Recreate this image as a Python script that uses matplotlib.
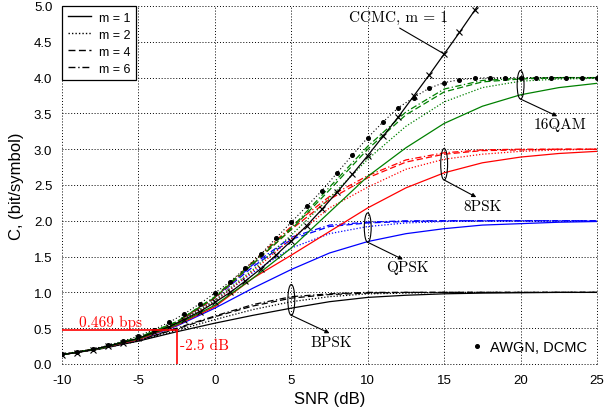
import numpy as np
import matplotlib.pyplot as plt
from matplotlib.patches import Ellipse
from matplotlib.lines import Line2D

plt.rcParams['font.family'] = ['Liberation Sans', 'DejaVu Sans']
plt.rcParams['axes.unicode_minus'] = False

# SNR grid (dB) used for the DCMC curves
snr = [-10, -7.5, -5, -2.5, 0, 2.5, 5, 7.5, 10, 12.5, 15, 17.5, 20, 22.5, 25]

# BPSK, m = 1, 2, 4, 6
bpsk_m1 = [0.13, 0.21, 0.32, 0.45, 0.57, 0.68, 0.78, 0.87, 0.93, 0.96, 0.98, 0.99, 0.995, 1.0, 1.0]
bpsk_m2 = [0.13, 0.21, 0.32, 0.47, 0.62, 0.76, 0.87, 0.94, 0.98, 0.99, 1.0, 1.0, 1.0, 1.0, 1.0]
bpsk_m4 = [0.13, 0.22, 0.33, 0.49, 0.66, 0.81, 0.92, 0.97, 0.99, 1.0, 1.0, 1.0, 1.0, 1.0, 1.0]
bpsk_m6 = [0.13, 0.22, 0.33, 0.50, 0.67, 0.83, 0.94, 0.98, 1.0, 1.0, 1.0, 1.0, 1.0, 1.0, 1.0]

# QPSK
qpsk_m1 = [0.13, 0.22, 0.34, 0.53, 0.78, 1.06, 1.32, 1.55, 1.71, 1.82, 1.89, 1.94, 1.96, 1.98, 1.99]
qpsk_m2 = [0.13, 0.22, 0.35, 0.56, 0.88, 1.28, 1.62, 1.82, 1.92, 1.97, 1.99, 2.0, 2.0, 2.0, 2.0]
qpsk_m4 = [0.13, 0.22, 0.36, 0.57, 0.92, 1.36, 1.74, 1.92, 1.97, 1.99, 2.0, 2.0, 2.0, 2.0, 2.0]
qpsk_m6 = [0.13, 0.22, 0.36, 0.58, 0.93, 1.39, 1.77, 1.94, 1.98, 2.0, 2.0, 2.0, 2.0, 2.0, 2.0]

# 8PSK
psk8_m1 = [0.13, 0.22, 0.34, 0.54, 0.80, 1.20, 1.52, 1.85, 2.18, 2.46, 2.67, 2.81, 2.89, 2.94, 2.97]
psk8_m2 = [0.13, 0.22, 0.35, 0.56, 0.87, 1.30, 1.75, 2.18, 2.47, 2.72, 2.86, 2.93, 2.97, 2.99, 3.0]
psk8_m4 = [0.13, 0.22, 0.36, 0.58, 0.92, 1.40, 1.88, 2.30, 2.60, 2.82, 2.93, 2.98, 2.99, 3.0, 3.0]
psk8_m6 = [0.13, 0.22, 0.36, 0.58, 0.93, 1.43, 1.92, 2.34, 2.63, 2.85, 2.95, 2.99, 3.0, 3.0, 3.0]

# 16QAM
qam16_m1 = [0.13, 0.22, 0.35, 0.55, 0.82, 1.20, 1.62, 2.12, 2.62, 3.02, 3.36, 3.60, 3.76, 3.86, 3.92]
qam16_m2 = [0.13, 0.22, 0.36, 0.57, 0.89, 1.32, 1.80, 2.32, 2.86, 3.32, 3.66, 3.86, 3.95, 3.98, 3.99]
qam16_m4 = [0.13, 0.22, 0.37, 0.59, 0.93, 1.40, 1.88, 2.43, 3.00, 3.48, 3.80, 3.94, 3.98, 4.0, 4.0]
qam16_m6 = [0.13, 0.22, 0.37, 0.59, 0.94, 1.42, 1.90, 2.47, 3.04, 3.52, 3.84, 3.96, 3.99, 4.0, 4.0]

# CCMC, m = 1 (1 dB steps)
snr_ccmc = list(range(-10, 19))
ccmc_m1 = [0.13, 0.16, 0.20, 0.25, 0.30, 0.36, 0.44, 0.52, 0.62, 0.73,
           0.86, 1.00, 1.16, 1.33, 1.52, 1.72, 1.93, 2.16, 2.40, 2.65,
           2.91, 3.18, 3.45, 3.74, 4.03, 4.33, 4.63, 4.94, 5.25]

# 16QAM in AWGN, DCMC (1 dB steps)
snr_awgn = list(range(-10, 26))
awgn_16qam = [0.14, 0.17, 0.21, 0.26, 0.32, 0.39, 0.48, 0.58, 0.70, 0.84,
              0.99, 1.15, 1.34, 1.53, 1.76, 1.98, 2.20, 2.42, 2.67, 2.92,
              3.16, 3.38, 3.58, 3.72, 3.85, 3.93, 3.97, 3.99, 4.0, 4.0,
              4.0, 4.0, 4.0, 4.0, 4.0, 4.0]

m_labels = ['m = 1', 'm = 2', 'm = 4', 'm = 6']
styles = ['-', (0, (1, 1.5)), (0, (5, 2.5)), (0, (5, 2, 1, 2))]

curves = {
    'black': [bpsk_m1, bpsk_m2, bpsk_m4, bpsk_m6],
    'blue': [qpsk_m1, qpsk_m2, qpsk_m4, qpsk_m6],
    'red': [psk8_m1, psk8_m2, psk8_m4, psk8_m6],
    'green': [qam16_m1, qam16_m2, qam16_m4, qam16_m6],
}

fig = plt.figure(figsize=(6.05, 4.14), dpi=100)
ax = fig.add_axes([0.1025, 0.1184, 0.8843, 0.8647])

for col, series in curves.items():
    for vals, ls in zip(series, styles):
        ax.plot(snr, vals, color=col, linestyle=ls, lw=0.9, zorder=3)

ax.plot(snr_ccmc, ccmc_m1, color='k', lw=0.9, marker='x', ms=4, mew=0.8, zorder=4)
ax.plot(snr_awgn, awgn_16qam, color='k', linestyle=(0, (1, 2)), lw=0.8,
        marker='o', ms=2.6, zorder=4)

# operating point marker
ax.plot([-10, -2.5], [0.469, 0.469], color='red', lw=1.2, zorder=5)
ax.plot([-2.5, -2.5], [0, 0.469], color='red', lw=1.2, zorder=5)
ax.text(-8.9, 0.485, '0.469 bps', color='red', family='cmr10', fontsize=11, va='bottom')
ax.text(-2.25, 0.26, '-2.5 dB', color='red', family='cmr10', fontsize=11, va='center')

# group ellipses and labels
groups = [
    (5, 0.895, 0.43, 'BPSK', (7.5, 0.43), (7.6, 0.31)),
    (10, 1.905, 0.41, 'QPSK', (12.3, 1.46), (12.6, 1.36)),
    (15, 2.79, 0.44, '8PSK', (17.1, 2.33), (17.5, 2.21)),
    (20, 3.90, 0.40, '16QAM', (22.4, 3.46), (22.6, 3.35)),
]
for gx, gy, gh, name, tip, lab in groups:
    ax.add_patch(Ellipse((gx, gy), 0.45, gh, fill=False, lw=0.8, ec='k', zorder=6))
    ax.annotate('', xy=tip, xytext=(gx, gy - gh / 2),
                arrowprops=dict(arrowstyle='-|>', lw=0.8, color='k',
                                mutation_scale=6, shrinkA=0, shrinkB=0), zorder=6)
    ax.text(lab[0], lab[1], name, family='cmr10', fontsize=11, ha='center', va='center')

ax.plot([12.1, 15], [4.69, 4.33], color='k', lw=0.8, zorder=6)
ax.text(12.0, 4.85, 'CCMC, m = 1', family='cmr10', fontsize=11, ha='center', va='center')

ax.set_xlim(-10, 25)
ax.set_ylim(0, 5)
ax.set_xticks(np.arange(-10, 26, 5))
ax.set_yticks(np.arange(0, 5.01, 0.5))
ax.set_yticklabels(['%.1f' % v for v in np.arange(0, 5.01, 0.5)])
ax.tick_params(length=0, labelsize=9.5, pad=7)
for s in ax.spines.values():
    s.set_visible(False)
ax.grid(True, color='k', linestyle=(0, (1, 2)), lw=0.7, zorder=0)
for gl in ax.get_xgridlines() + ax.get_ygridlines():
    gl.set_clip_on(False)

ax.set_xlabel('SNR (dB)', fontsize=12, labelpad=4)
ax.set_ylabel('C, (bit/symbol)', fontsize=12, labelpad=7)

handles = [Line2D([], [], color='k', lw=1, linestyle=ls) for ls in styles]
leg = ax.legend(handles, m_labels, loc='upper left', bbox_to_anchor=(0, 1), borderaxespad=0,
                fontsize=9, fancybox=False, edgecolor='k', framealpha=1,
                handlelength=1.9, handletextpad=0.6, labelspacing=0.4, borderpad=0.45)
leg.get_frame().set_linewidth(0.9)
ax.add_artist(leg)

dot = Line2D([], [], color='k', marker='o', ms=2.6, linestyle='none')
ax.legend([dot], ['AWGN, DCMC'], loc='lower right', frameon=False, fontsize=10.5,
          handlelength=0.8, handletextpad=0.5, borderaxespad=0.3)

fig.savefig('out.png', dpi=100)
